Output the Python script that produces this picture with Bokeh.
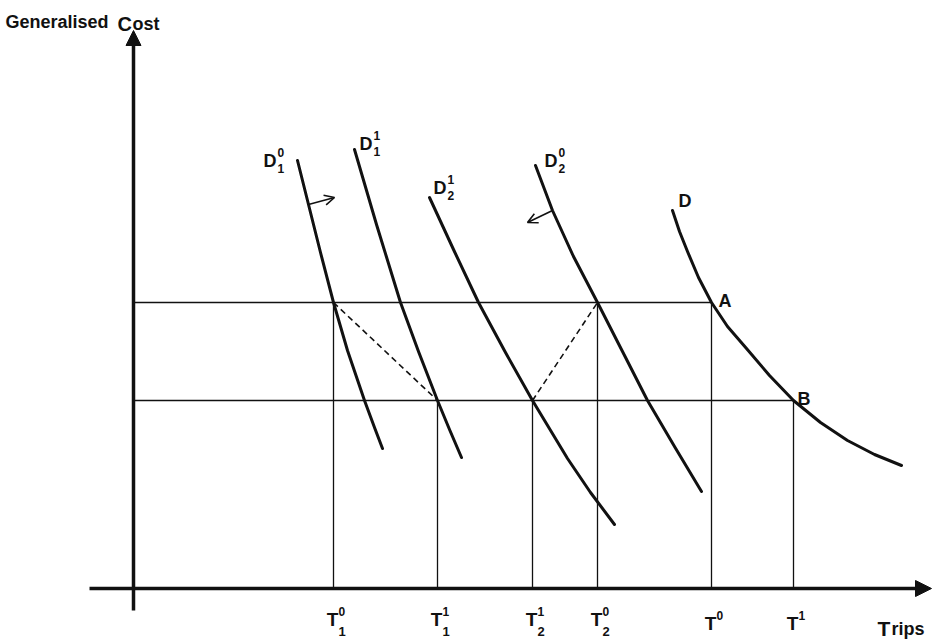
from bokeh.plotting import figure
from bokeh.models import Range1d, Arrow, NormalHead, OpenHead
from bokeh.embed import file_html
from bokeh.resources import INLINE
from bokeh.core.properties import value

# ---------------- data (schematic units: trips on x, generalised cost on y) ----------------
cost_high = 286
cost_low = 188

trip_values = [200, 304, 399, 464, 578, 660]          # T1^0, T1^1, T2^1, T2^0, T^0, T^1
trip_sup = ["0", "1", "1", "0", "0", "1"]
trip_sub = ["1", "1", "2", "2", "", ""]
trip_level = [cost_high, cost_low, cost_low, cost_high, cost_high, cost_low]

# demand curves
d10_x = [164, 175, 187, 200, 214, 231, 241, 249]
d10_y = [428, 384, 336, 286, 238, 188, 161, 140]
d11_x = [221, 243, 267, 285, 304, 316, 328]
d11_y = [439, 364, 286, 237, 188, 159, 131]
d21_x = [296, 320, 345, 372, 399, 434, 457, 481]
d21_y = [391, 339, 286, 236, 188, 130, 96, 64]
d20_x = [402, 419, 440, 464, 489, 514, 541, 568]
d20_y = [423, 378, 332, 286, 237, 188, 142, 97]
d_x = [539, 546, 554, 565, 578, 594, 613, 636, 660, 687, 714, 741, 768]
d_y = [378, 357, 337, 311, 286, 262, 240, 213, 188, 166, 148, 134, 123]

curve_sub = ["1", "1", "2", "2", ""]
curve_sup = ["0", "1", "1", "0", ""]

FONT = value("Liberation Sans")
INK = "#111111"

p = figure(width=939, height=644, output_backend="svg", toolbar_location=None,
           x_range=Range1d(-133, 806), y_range=Range1d(-56, 588),
           min_border=0, outline_line_color=None, background_fill_color="white")
p.axis.visible = False
p.grid.visible = False


def txt(xs, ys, texts, size, bold=True, align="left"):
    p.text(x=xs, y=ys, text=texts, text_font=FONT, text_font_size=f"{size}px",
           text_font_style="bold" if bold else "normal", text_color=INK,
           text_align=align, text_baseline="alphabetic")


# ---------------- axes ----------------
p.add_layout(Arrow(end=NormalHead(size=15, fill_color=INK, line_color=INK),
                   x_start=0, y_start=-22, x_end=0, y_end=558,
                   line_width=3.5, line_color=INK))
p.add_layout(Arrow(end=NormalHead(size=16, fill_color=INK, line_color=INK),
                   x_start=-44, y_start=0, x_end=798, y_end=0,
                   line_width=3.5, line_color=INK))

# ---------------- guide lines ----------------
p.line([0, trip_values[4]], [cost_high, cost_high], line_width=1.3, line_color=INK)
p.line([0, trip_values[5]], [cost_low, cost_low], line_width=1.3, line_color=INK)
for tv, lv in zip(trip_values, trip_level):
    p.line([tv, tv], [0, lv], line_width=1.3, line_color=INK)

# dashed transfers
p.line([trip_values[0], trip_values[1]], [cost_high, cost_low],
       line_width=1.6, line_color=INK, line_dash="6 4")
p.line([trip_values[2], trip_values[3]], [cost_low, cost_high],
       line_width=1.6, line_color=INK, line_dash="6 4")

# ---------------- demand curves ----------------
for xs, ys in [(d10_x, d10_y), (d11_x, d11_y), (d21_x, d21_y), (d20_x, d20_y), (d_x, d_y)]:
    p.line(xs, ys, line_width=3, line_color=INK, line_cap="round", line_join="round")

# shift arrows
p.add_layout(Arrow(end=OpenHead(size=10, line_width=1.6, line_color=INK),
                   x_start=d10_x[1], y_start=d10_y[1], x_end=d10_x[1] + 26, y_end=d10_y[1] + 7,
                   line_width=1.6, line_color=INK))
p.add_layout(Arrow(end=OpenHead(size=10, line_width=1.6, line_color=INK),
                   x_start=d20_x[1], y_start=d20_y[1], x_end=d20_x[1] - 25, y_end=d20_y[1] - 12,
                   line_width=1.6, line_color=INK))

# ---------------- curve labels ----------------
lab_x = [130, 226, 300, 411, 545]
lab_y = [428, 445, 401, 428, 388]
txt(lab_x, lab_y, ["D"] * 5, 18)
sx = [x + 14 for x, s in zip(lab_x, curve_sup) if s]
txt(sx, [y + 8 for y, s in zip(lab_y, curve_sup) if s], [s for s in curve_sup if s], 12)
txt(sx, [y - 8 for y, s in zip(lab_y, curve_sub) if s], [s for s in curve_sub if s], 12)

# points A and B
txt([trip_values[4] + 7, trip_values[5] + 4], [cost_high + 2, cost_low + 2], ["A", "B"], 18)

# ---------------- trip tick labels ----------------
base = [-31 if s else -35 for s in trip_sub]
txt([v - 1 for v in trip_values], base, ["T"] * 6, 19, align="center")
txt([v + 5 for v in trip_values], [b + 8 for b in base], trip_sup, 12)
txt([v + 5 for v, s in zip(trip_values, trip_sub) if s],
    [b - 12 for b, s in zip(base, trip_sub) if s], [s for s in trip_sub if s], 13)

# axis titles
txt([744], [-40], ["T"], 21)
txt([758], [-40], ["rips"], 18)
txt([-128], [567], ["Generalised"], 18)
txt([-16], [565], ["C"], 20)
txt([-1], [565], ["ost"], 18)

open("out.html", "w").write(file_html(p, INLINE))
